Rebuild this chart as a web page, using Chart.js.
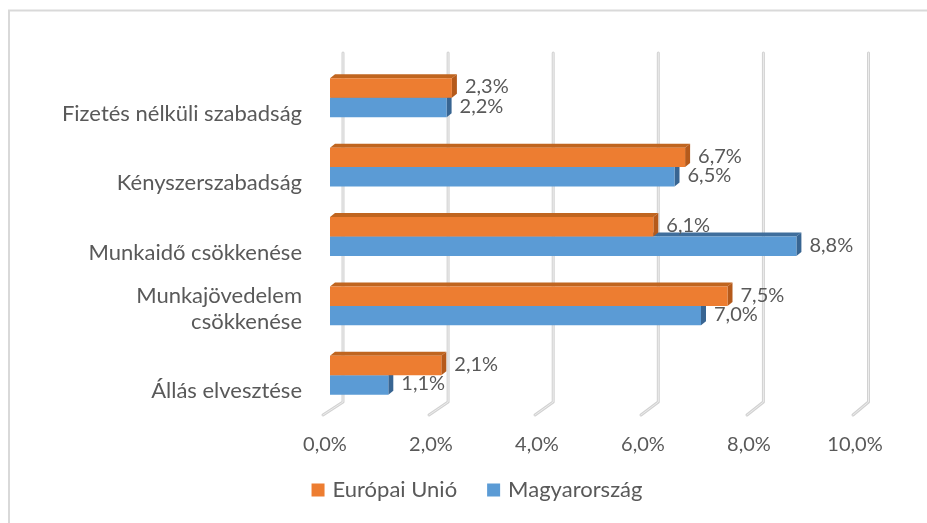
<!DOCTYPE html>
<html>
<head>
<meta charset="utf-8">
<script src="https://cdn.jsdelivr.net/npm/chart.js@4"></script>
<style>
  html, body { margin: 0; padding: 0; background: #fff; }
  #wrap { width: 927px; height: 523px; position: relative; }
</style>
</head>
<body>
<div id="wrap"><canvas id="chart"></canvas></div>
<script>
// chart data
const categories = ['Fizetés nélküli szabadság', 'Kényszerszabadság', 'Munkaidő csökkenése', ['Munkajövedelem', 'csökkenése'], 'Állás elvesztése'];
const seriesNames = ['Európai Unió', 'Magyarország'];
const euValues = [2.3, 6.7, 6.1, 7.5, 2.1];
const huValues = [2.2, 6.5, 8.8, 7.0, 1.1];
const xTicks = [0, 2, 4, 6, 8, 10];

const FONT = 'Lato, "Open Sans", sans-serif';
const TEXT = '#595959';
const DEPTH_X = 5, DEPTH_Y = 4;

function pct(v) {
  return v.toFixed(1).replace('.', ',') + '%';
}

// 3d look: back wall gridlines + side/top faces of the bars
const threeD = {
  id: 'threeD',
  beforeDraw(chart) {
    const ctx = chart.ctx;
    ctx.save();
    ctx.strokeStyle = '#d9d9d9';
    ctx.lineWidth = 2;
    ctx.beginPath();
    ctx.moveTo(9, 523);
    ctx.lineTo(9, 10.5);
    ctx.lineTo(927, 10.5);
    ctx.stroke();
    ctx.restore();
  },
  beforeDatasetsDraw(chart) {
    const ctx = chart.ctx;
    const xs = chart.scales.x;
    ctx.save();
    xTicks.forEach(v => {
      const fx = xs.getPixelForValue(v);
      const bx = fx + 13 - v * 0.45;
      const pts = [[bx, 53], [bx, 402], [fx - 7, 415]];
      [[3, '#d2d2d2'], [1, '#ececec']].forEach(([w, c]) => {
        ctx.lineWidth = w;
        ctx.strokeStyle = c;
        ctx.lineJoin = 'round';
        ctx.lineCap = 'round';
        ctx.beginPath();
        ctx.moveTo(pts[0][0], pts[0][1]);
        ctx.lineTo(pts[1][0], pts[1][1]);
        ctx.lineTo(pts[2][0], pts[2][1]);
        ctx.stroke();
      });
    });
    // faces: blue first, orange on top of it
    for (let d = chart.data.datasets.length - 1; d >= 0; d--) {
      const ds = chart.data.datasets[d];
      chart.getDatasetMeta(d).data.forEach(bar => {
        const top = bar.y - bar.height / 2;
        const bottom = bar.y + bar.height / 2;
        ctx.fillStyle = ds.topColor;
        ctx.beginPath();
        ctx.moveTo(bar.base, top);
        ctx.lineTo(bar.x, top);
        ctx.lineTo(bar.x + DEPTH_X, top - DEPTH_Y);
        ctx.lineTo(bar.base + DEPTH_X, top - DEPTH_Y);
        ctx.closePath();
        ctx.fill();
        ctx.fillStyle = ds.sideColor;
        ctx.beginPath();
        ctx.moveTo(bar.x, top);
        ctx.lineTo(bar.x + DEPTH_X, top - DEPTH_Y);
        ctx.lineTo(bar.x + DEPTH_X, bottom - DEPTH_Y);
        ctx.lineTo(bar.x, bottom);
        ctx.closePath();
        ctx.fill();
      });
    }
    ctx.restore();
  },
  afterDatasetsDraw(chart) {
    const ctx = chart.ctx;
    ctx.save();
    ctx.font = '20px ' + FONT;
    ctx.fillStyle = TEXT;
    ctx.textBaseline = 'middle';
    ctx.textAlign = 'left';
    chart.data.datasets.forEach((ds, d) => {
      chart.getDatasetMeta(d).data.forEach((bar, i) => {
        ctx.fillText(pct(ds.data[i]), bar.x + 13, bar.y - 1);
      });
    });
    ctx.restore();
  },
  afterDraw(chart) {
    // legend
    const ctx = chart.ctx;
    ctx.save();
    ctx.font = '22px ' + FONT;
    ctx.textBaseline = 'middle';
    const box = 13, gap = 8, between = 30;
    const items = chart.data.datasets.map(ds => ({ label: ds.label, color: ds.backgroundColor, w: ctx.measureText(ds.label).width }));
    let total = items.reduce((s, it) => s + box + gap + it.w, 0) + between * (items.length - 1);
    let x = 477 - total / 2;
    const y = 490;
    items.forEach(it => {
      ctx.fillStyle = it.color;
      ctx.fillRect(x, y - box / 2, box, box);
      x += box + gap;
      ctx.fillStyle = TEXT;
      ctx.fillText(it.label, x, y);
      x += it.w + between;
    });
    ctx.restore();
  }
};

new Chart(document.getElementById('chart'), {
  type: 'bar',
  data: {
    labels: categories,
    datasets: [
      { label: seriesNames[0], data: euValues, backgroundColor: '#ED7D31', topColor: '#C0651F', sideColor: '#B55A1B' },
      { label: seriesNames[1], data: huValues, backgroundColor: '#5B9BD5', topColor: '#3F6E9C', sideColor: '#386592' }
    ]
  },
  options: {
    indexAxis: 'y',
    responsive: true,
    maintainAspectRatio: false,
    animation: false,
    layout: { padding: { top: 63, right: 67, bottom: 0, left: 0 } },
    categoryPercentage: 0.56,
    barPercentage: 1,
    plugins: {
      legend: { display: false },
      tooltip: { enabled: false }
    },
    scales: {
      x: {
        min: 0,
        max: 10,
        afterFit(scale) { scale.height = 113; },
        afterBuildTicks(scale) { scale.ticks = xTicks.map(v => ({ value: v })); },
        grid: { display: false, drawTicks: false },
        border: { display: false },
        ticks: {
          color: TEXT,
          font: { family: FONT, size: 20 },
          padding: 23,
          labelOffset: -5,
          maxRotation: 0,
          callback: v => pct(v)
        }
      },
      y: {
        afterFit(scale) { scale.width = 330; },
        grid: { display: false, drawTicks: false },
        border: { display: false },
        ticks: {
          color: TEXT,
          font: { family: FONT, size: 22, lineHeight: 1.18 },
          padding: 28,
          labelOffset: 16,
          autoSkip: false,
          callback: function (v, i) {
            const label = categories[i];
            // two-line label: keep its block centred a bit higher, like the original
            return Array.isArray(label) ? label.concat(['']) : label;
          }
        }
      }
    }
  },
  plugins: [threeD]
});
</script>
</body>
</html>
